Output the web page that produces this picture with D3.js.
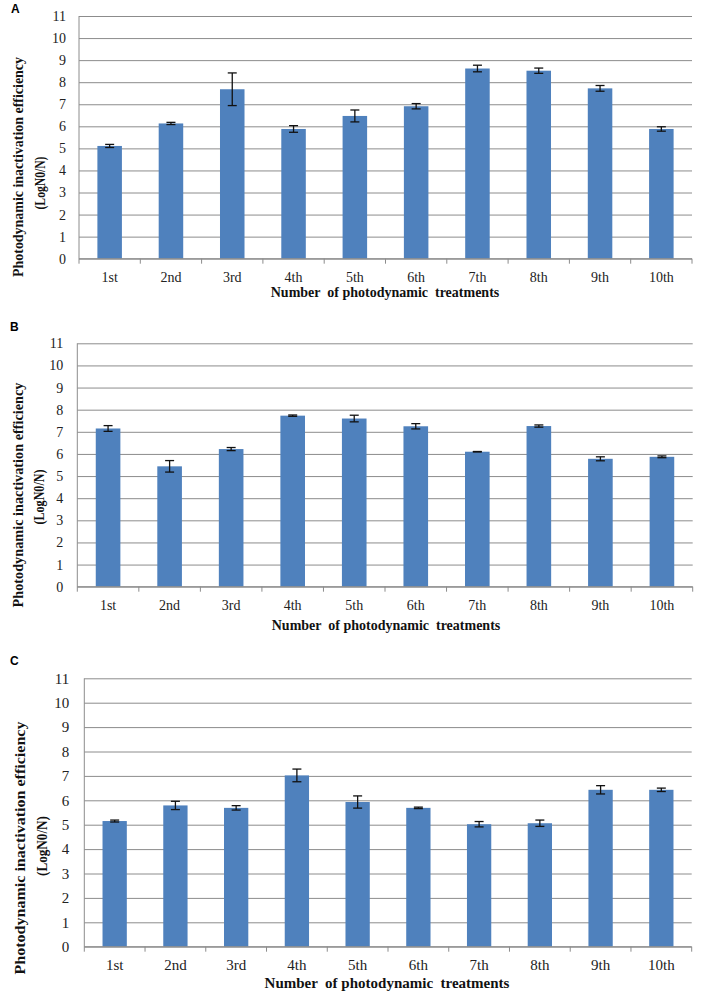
<!DOCTYPE html>
<html>
<head>
<meta charset="utf-8">
<script src="https://cdn.jsdelivr.net/npm/d3@7"></script>
<style>
  html, body { margin: 0; padding: 0; background: #fff; }
  svg { display: block; }
  svg text { font-family: 'Liberation Serif', 'Times New Roman', Times, serif; }
</style>
</head>
<body>
<svg id="chart" width="708" height="1008"></svg>
<script>
// ---- Data ----
const categories = ["1st", "2nd", "3rd", "4th", "5th", "6th", "7th", "8th", "9th", "10th"];
const yTicks = [0, 1, 2, 3, 4, 5, 6, 7, 8, 9, 10, 11];
const panelLetters = ["A", "B", "C"];
const xTitle = "Number  of photodynamic  treatments";
const yTitle1 = "Photodynamic  inactivation  efficiency";
const yTitle2 = "(LogN0/N)";

const valuesA = [5.11, 6.13, 7.68, 5.88, 6.47, 6.91, 8.62, 8.52, 7.72, 5.88];
const errorsA = [0.07, 0.05, 0.74, 0.15, 0.27, 0.12, 0.15, 0.12, 0.13, 0.10];
const valuesB = [7.15, 5.44, 6.22, 7.73, 7.60, 7.25, 6.10, 7.26, 5.78, 5.87];
const errorsB = [0.13, 0.26, 0.07, 0.03, 0.15, 0.12, 0.01, 0.05, 0.09, 0.04];
const valuesC = [5.15, 5.79, 5.69, 7.02, 5.93, 5.69, 5.02, 5.06, 6.43, 6.43];
const errorsC = [0.04, 0.17, 0.09, 0.26, 0.25, 0.03, 0.11, 0.13, 0.17, 0.07];

// ---- Layout (positions only) ----
const panels = [
  { letter: panelLetters[0], values: valuesA, errors: errorsA,
    left: 79, right: 692, top: 16, bottom: 258.7,
    letterX: 11, letterY: 12.7, tickPad: 13, xLabY: 282, xTitleY: 297, xTitleX: 385,
    y1X: 23, y1C: 167, y1L: 220, y2X: 45, y2C: 183, y2L: 53, fs: 14 },
  { letter: panelLetters[1], values: valuesB, errors: errorsB,
    left: 77.3, right: 692.7, top: 343.3, bottom: 586.7,
    letterX: 10, letterY: 330.7, tickPad: 14, xLabY: 610, xTitleY: 630, xTitleX: 386,
    y1X: 23, y1C: 495, y1L: 225, y2X: 44, y2C: 497, y2L: 55, fs: 14 },
  { letter: panelLetters[2], values: valuesC, errors: errorsC,
    left: 84.3, right: 691.7, top: 678.3, bottom: 946.7,
    letterX: 10, letterY: 664.7, tickPad: 15, xLabY: 970, xTitleY: 988, xTitleX: 387,
    y1X: 25, y1C: 848, y1L: 253, y2X: 47, y2C: 846, y2L: 60, fs: 15 }
];

const svg = d3.select("#chart");
const serif = "'Liberation Serif', 'Times New Roman', Times, serif";
const barColor = "#4F81BD";
const gridColor = "#8c8c8c";

panels.forEach(p => {
  const g = svg.append("g");
  const x = d3.scaleBand().domain(categories).range([p.left, p.right]).padding(0);
  const y = d3.scaleLinear().domain([0, 11]).range([p.bottom, p.top]);
  const bw = x.bandwidth();

  // Y axis with gridlines
  const yAxis = d3.axisLeft(y).tickValues(yTicks).tickSize(-(p.right - p.left)).tickPadding(p.tickPad).tickFormat(d3.format("d"));
  const ya = g.append("g").attr("transform", `translate(${p.left},0)`).call(yAxis)
    .attr("font-family", null).attr("font-size", null);
  ya.select(".domain").remove();
  ya.selectAll(".tick line").attr("stroke", gridColor).attr("stroke-width", 1);
  ya.selectAll(".tick text")
    .style("font-family", serif).style("font-size", p.fs + "px").attr("fill", "#222");

  // Left vertical axis line
  g.append("line")
    .attr("x1", p.left).attr("x2", p.left)
    .attr("y1", y(11)).attr("y2", y(0) + 5)
    .attr("stroke", gridColor).attr("stroke-width", 1);

  // Bars
  g.selectAll("rect.bar").data(categories).enter().append("rect")
    .attr("class", "bar")
    .attr("x", d => x(d) + bw * 0.3)
    .attr("width", bw * 0.4)
    .attr("y", (d, i) => y(p.values[i]))
    .attr("height", (d, i) => y(0) - y(p.values[i]))
    .attr("fill", barColor);

  // Error bars
  const eb = g.selectAll("g.err").data(categories).enter().append("g").attr("class", "err");
  const cx = d => x(d) + bw / 2;
  eb.append("line")
    .attr("x1", cx).attr("x2", cx)
    .attr("y1", (d, i) => y(p.values[i] + p.errors[i]))
    .attr("y2", (d, i) => y(p.values[i] - p.errors[i]))
    .attr("stroke", "#111").attr("stroke-width", 1.3);
  [1, -1].forEach(s => {
    eb.append("line")
      .attr("x1", d => cx(d) - 4.5).attr("x2", d => cx(d) + 4.5)
      .attr("y1", (d, i) => y(p.values[i] + s * p.errors[i]))
      .attr("y2", (d, i) => y(p.values[i] + s * p.errors[i]))
      .attr("stroke", "#111").attr("stroke-width", 1.3);
  });

  // X axis baseline
  g.append("line")
    .attr("x1", p.left).attr("x2", p.right)
    .attr("y1", y(0)).attr("y2", y(0))
    .attr("stroke", gridColor).attr("stroke-width", 1);

  // Boundary tick marks between categories
  const bounds = categories.map(c => x(c)).concat([x(categories[categories.length - 1]) + bw]);
  g.selectAll("line.btick").data(bounds.slice(1)).enter().append("line")
    .attr("class", "btick")
    .attr("x1", d => d).attr("x2", d => d)
    .attr("y1", y(0)).attr("y2", y(0) + 5)
    .attr("stroke", gridColor).attr("stroke-width", 1);

  // X tick labels
  g.selectAll("text.xlab").data(categories).enter().append("text")
    .attr("class", "xlab")
    .attr("x", d => x(d) + bw / 2)
    .attr("y", p.xLabY)
    .attr("text-anchor", "middle")
    .style("font-family", serif).style("font-size", p.fs + "px").attr("fill", "#222")
    .text(d => d);

  // X title
  g.append("text")
    .attr("x", p.xTitleX).attr("y", p.xTitleY)
    .attr("text-anchor", "middle")
    .style("font-family", serif).style("font-size", p.fs + "px").attr("font-weight", "bold").attr("fill", "#111")
    .style("white-space", "pre")
    .text(xTitle);

  // Y title (two lines)
  g.append("text")
    .attr("transform", `translate(${p.y1X},${p.y1C}) rotate(-90)`)
    .attr("text-anchor", "middle")
    .style("font-family", serif).style("font-size", p.fs + "px").attr("font-weight", "bold").attr("fill", "#111")
    .attr("textLength", p.y1L).attr("lengthAdjust", "spacingAndGlyphs")
    .text(yTitle1);
  g.append("text")
    .attr("transform", `translate(${p.y2X},${p.y2C}) rotate(-90)`)
    .attr("text-anchor", "middle")
    .style("font-family", serif).style("font-size", p.fs + "px").attr("font-weight", "bold").attr("fill", "#111")
    .attr("textLength", p.y2L).attr("lengthAdjust", "spacingAndGlyphs")
    .text(yTitle2);

  // Panel letter
  svg.append("text")
    .attr("x", p.letterX).attr("y", p.letterY)
    .style("font-family", "'Liberation Sans', Arial, sans-serif")
    .style("font-size", "12px").attr("font-weight", "bold").attr("fill", "#000")
    .text(p.letter);
});
</script>
</body>
</html>
